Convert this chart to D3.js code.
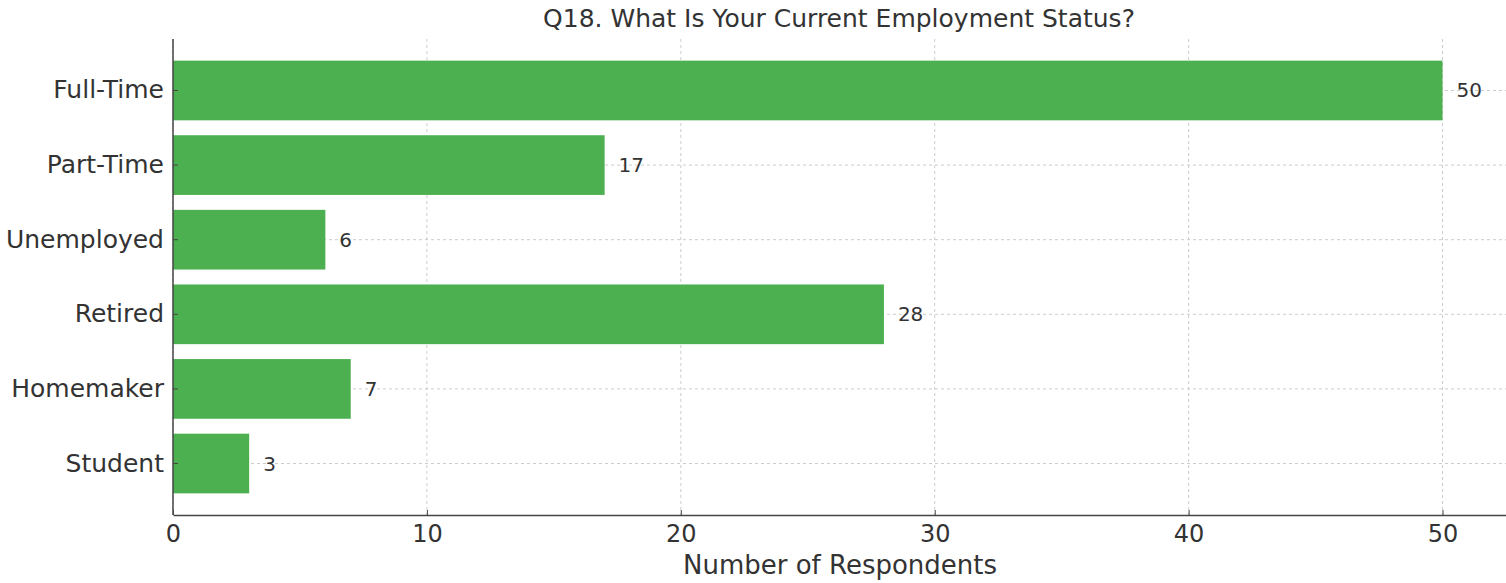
<!DOCTYPE html>
<html><head><meta charset="utf-8">
<script src="https://cdn.jsdelivr.net/npm/d3@7"></script>
<style>body{margin:0;background:#fff}svg{display:block;font-family:"DejaVu Sans",sans-serif}</style>
</head><body><svg id="c" width="1506" height="583"></svg>
<script>
const categories = ["Full-Time","Part-Time","Unemployed","Retired","Homemaker","Student"];
const values = [50,17,6,28,7,3];
const xTicks = [0,10,20,30,40,50];
const title = "Q18. What Is Your Current Employment Status?";
const xLabel = "Number of Respondents";

const svg = d3.select("#c");
const L = 173, R = 1506, T = 39, B = 515;
const x = d3.scaleLinear().domain([0, 52.5]).range([L, R]);
const y = d3.scaleBand().domain(categories).range([T, B]).paddingInner(0.2).paddingOuter(0.29);
const textCol = "#333";

// grid
svg.append("g").selectAll("line.gx").data(xTicks).join("line")
  .attr("x1", d=>x(d)).attr("x2", d=>x(d)).attr("y1", T).attr("y2", B)
  .attr("stroke", "#ccc").attr("stroke-width", 1).attr("stroke-dasharray", "3,3");
svg.append("g").selectAll("line.gy").data(categories).join("line")
  .attr("x1", L).attr("x2", R).attr("y1", d=>y(d)+y.bandwidth()/2).attr("y2", d=>y(d)+y.bandwidth()/2)
  .attr("stroke", "#ccc").attr("stroke-width", 1).attr("stroke-dasharray", "3,3");

// bars
svg.append("g").selectAll("rect").data(categories).join("rect")
  .attr("x", x(0)).attr("y", d=>y(d))
  .attr("width", (d,i)=>x(values[i])-x(0)).attr("height", y.bandwidth())
  .attr("fill", "#4CAF50");

// value labels
svg.append("g").selectAll("text").data(categories).join("text")
  .attr("x", (d,i)=>x(values[i]+0.55)).attr("y", d=>y(d)+y.bandwidth()/2)
  .attr("dy", "0.35em").attr("font-size", 20).attr("fill", textCol)
  .text((d,i)=>values[i]);

// axes (ticks pointing inward)
const xa = svg.append("g").attr("transform", `translate(0,${B})`)
  .call(d3.axisBottom(x).tickValues(xTicks).tickSizeInner(-5).tickSizeOuter(0).tickPadding(10));
xa.select(".domain").attr("stroke", "#444").attr("stroke-width", 1.5);
xa.selectAll(".tick line").attr("stroke", "#444");
xa.selectAll("text").attr("font-size", 24).attr("fill", textCol).attr("font-family", "DejaVu Sans");

const ya = svg.append("g").attr("transform", `translate(${L},0)`)
  .call(d3.axisLeft(y).tickSizeInner(-5).tickSizeOuter(0).tickPadding(9));
ya.select(".domain").attr("stroke", "#444").attr("stroke-width", 1.5).attr("d", `M0,${T}V${B}`);
ya.selectAll(".tick line").attr("stroke", "#444");
ya.selectAll("text").attr("font-size", 25).attr("fill", textCol).attr("font-family", "DejaVu Sans");

// title & label
svg.append("text").attr("x", 839).attr("y", 27).attr("text-anchor", "middle")
  .attr("font-size", 25).attr("fill", textCol).text(title);
svg.append("text").attr("x", 840).attr("y", 574).attr("text-anchor", "middle")
  .attr("font-size", 26).attr("fill", textCol).text(xLabel);
</script></body></html>
